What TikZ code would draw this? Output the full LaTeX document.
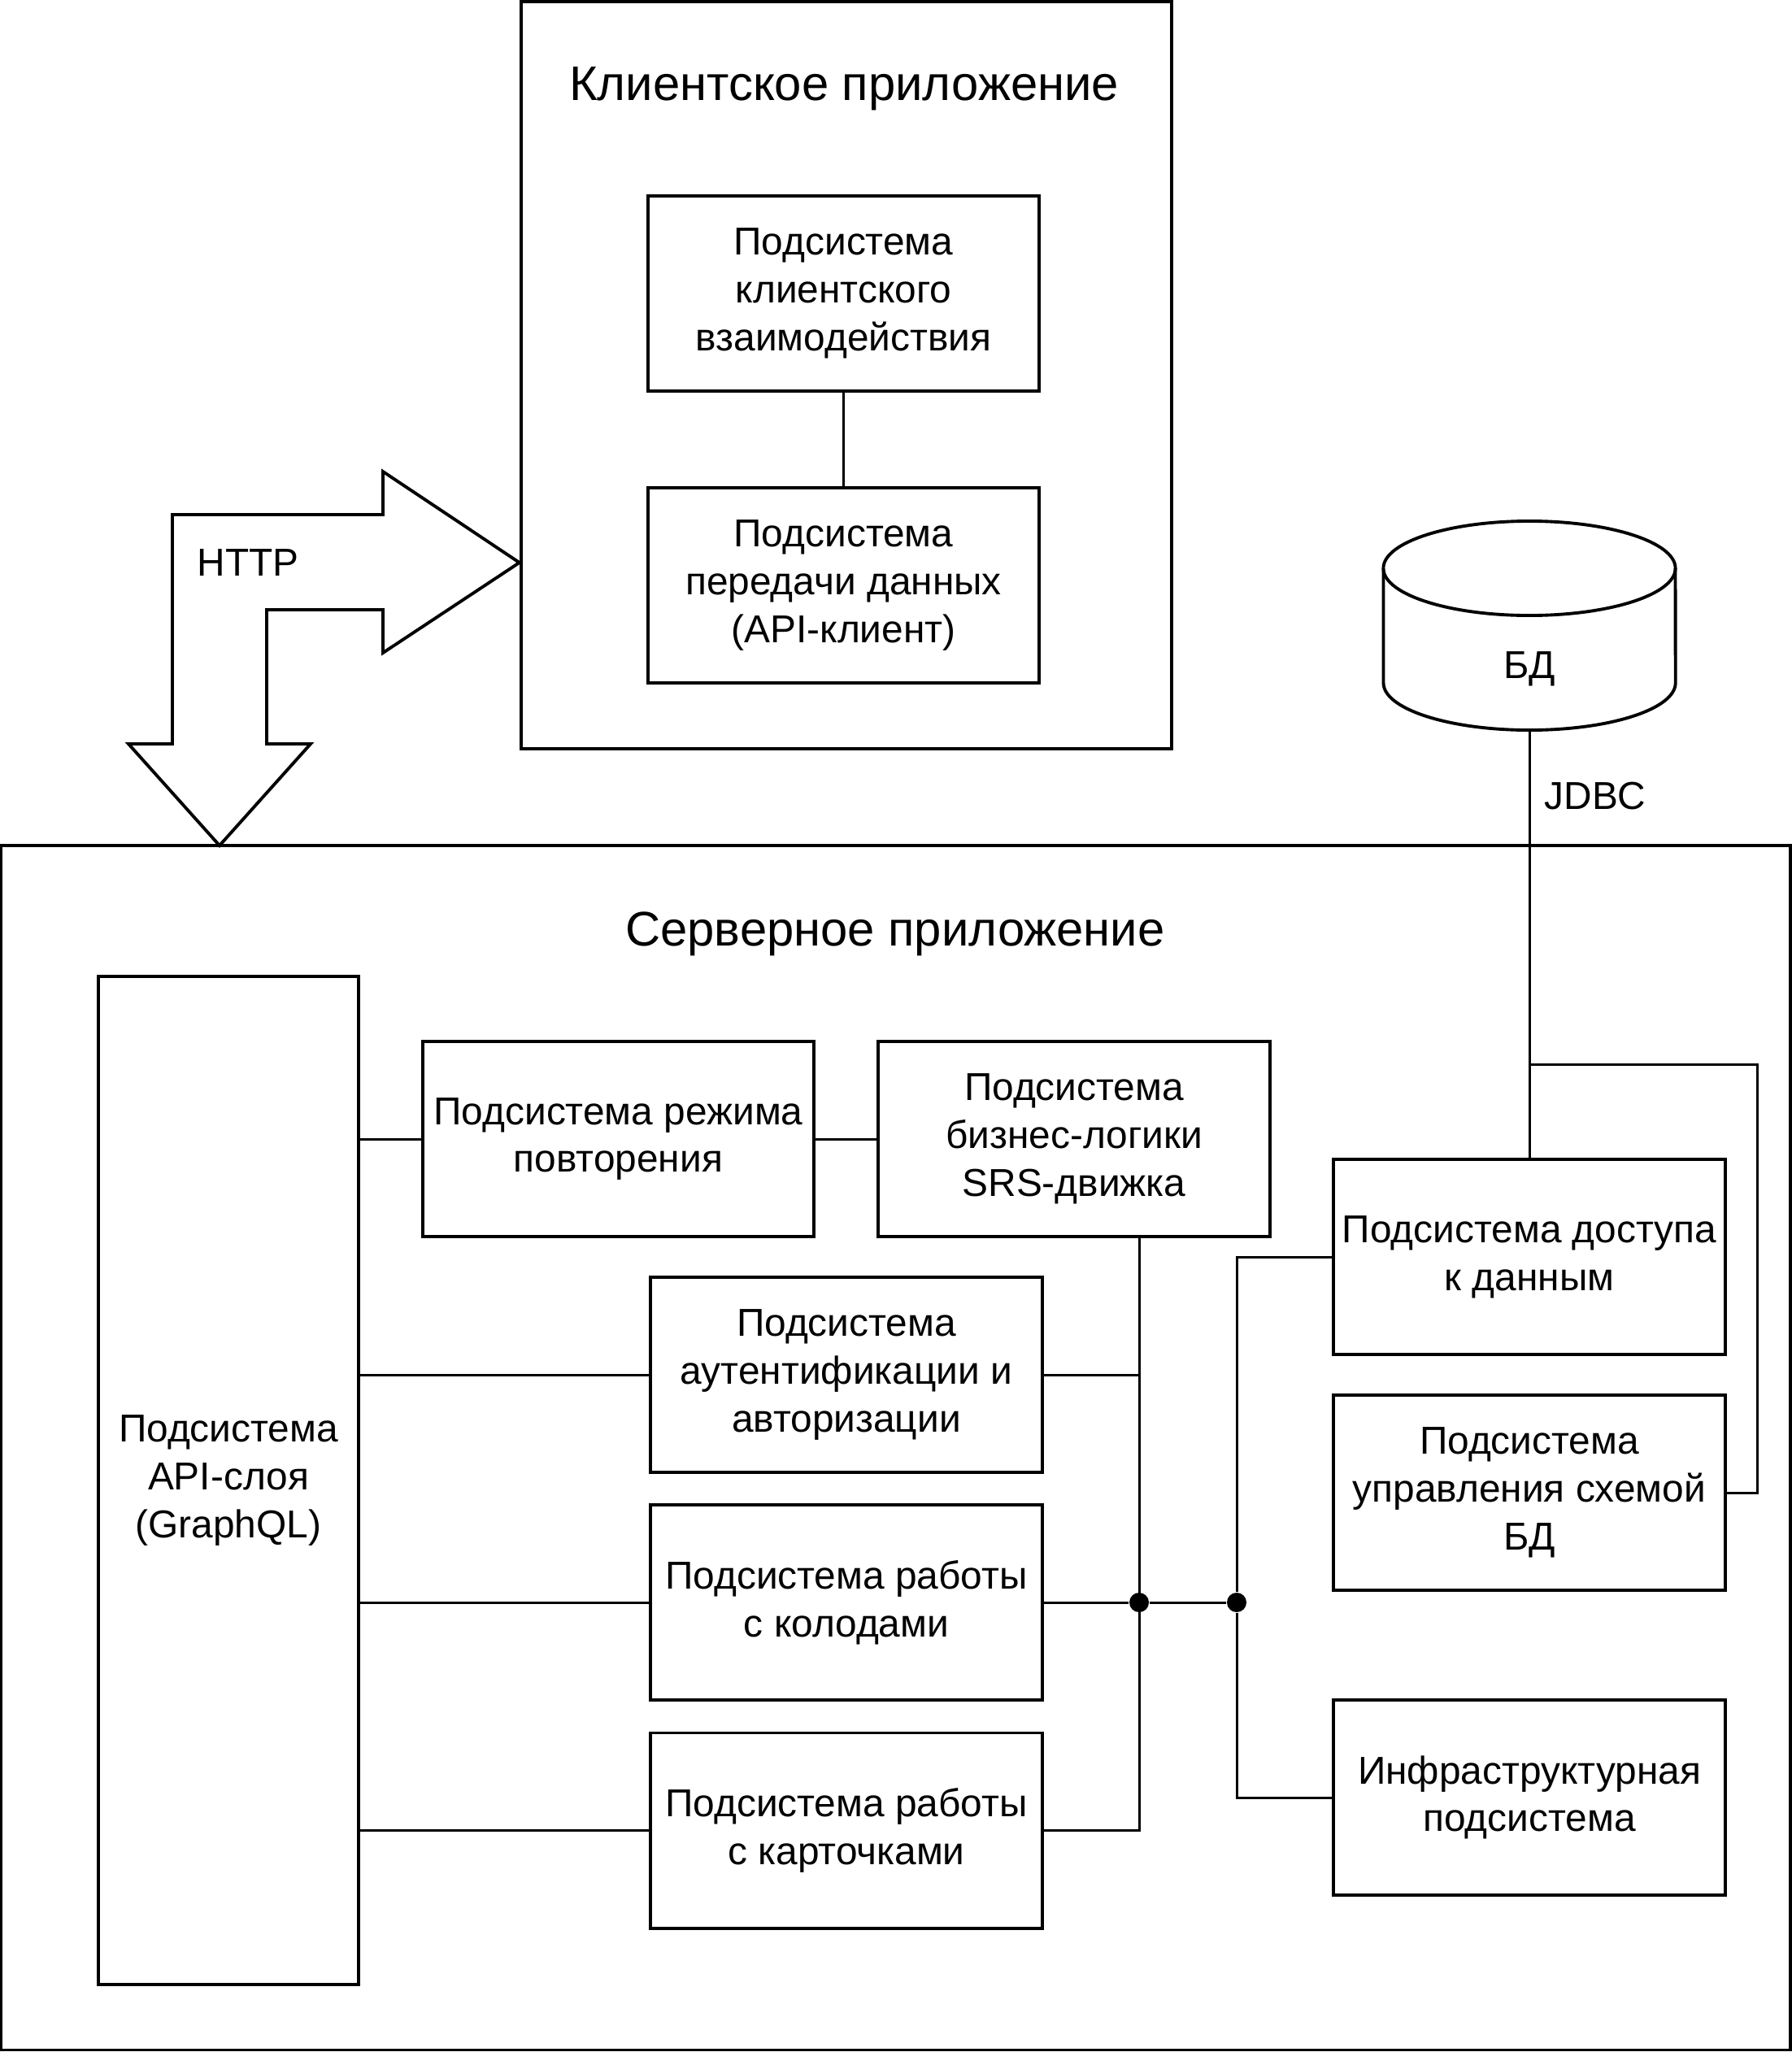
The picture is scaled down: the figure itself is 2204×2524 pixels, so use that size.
\documentclass[tikz,border=0pt]{standalone}
\usepackage{fontspec}
\setmainfont{Liberation Sans}
\tikzset{
	subsys/.style={draw,line width=1.1pt,minimum width=4.81cm,minimum height=2.4cm,align=center,inner sep=2pt,font=\fontsize{13.6}{16.7}\selectfont},
	container/.style={draw,line width=1.1pt,inner sep=0pt},
	wire/.style={line width=0.85pt},
	junction/.style={circle,fill,inner sep=0pt,minimum size=0.24cm},
	caption/.style={font=\fontsize{17}{20.4}\selectfont},
	tag/.style={font=\fontsize{13.6}{16.3}\selectfont}
}

\begin{document}
\begin{tikzpicture}[x=0.01cm,y=-0.01cm]
					\useasboundingbox (0,0) rectangle (2204,2524);

					\node[container,minimum width=8.0cm,minimum height=9.19cm] (client) at (1041,461.5) {};
					\node[caption] (clienttitle) at (1038,109) {Клиентское приложение};
					\node[subsys] (clientui) at (1037.5,361) {Подсистема\\клиентского\\взаимодействия};
					\node[subsys] (apiclient) at (1037.5,720) {Подсистема\\передачи данных\\(API-клиент)};

					\node[container,minimum width=21.99cm,minimum height=14.81cm] (server) at (1101.5,1780.5) {};
					\node[caption] (servertitle) at (1101,1149) {Серверное приложение};
					\node[subsys,minimum width=3.2cm,minimum height=12.4cm] (api) at (281,1821) {Подсистема\\API-слоя\\(GraphQL)};
					\node[subsys] (rep) at (760.5,1401) {Подсистема режима\\повторения};
					\node[subsys] (srs) at (1321,1401) {Подсистема\\бизнес-логики\\SRS-движка};
					\node[subsys] (auth) at (1041,1691) {Подсистема\\аутентификации и\\авторизации};
					\node[subsys] (decks) at (1041,1971) {Подсистема работы\\с колодами};
					\node[subsys] (cards) at (1041,2251.5) {Подсистема работы\\с карточками};
					\node[subsys] (access) at (1881,1546) {Подсистема доступа\\к данным};
					\node[subsys] (schema) at (1881,1836) {Подсистема\\управления схемой\\БД};
					\node[subsys] (infra) at (1881,2211) {Инфраструктурная\\подсистема};

					\node[inner sep=0pt,outer sep=0pt,minimum width=3.59cm,minimum height=2.57cm] (db) at (1881,769.5) {};
					\draw[line width=1.1pt] (1701.5,699) -- (1701.5,840) arc[start angle=180,end angle=360,x radius=1.795cm,y radius=0.58cm] -- (2060.5,699);
					\draw[line width=1.1pt] (1881,699) ellipse[x radius=1.795cm,y radius=0.58cm];
					\node[tag] (dbname) at (1881,823) {БД};

					\draw[line width=1.1pt,fill=white] (212,915) -- (212,633) -- (471,633) -- (471,580) -- (client.west |- 0,692) -- (471,803) -- (471,750) -- (328,750) -- (328,915) -- (382,915) -- (270,1040) -- (158,915) -- cycle;
					\node[tag] (http) at (305,692) {HTTP};
					\node[tag] (jdbc) at (1962,979) {JDBC};

					\node[junction] (j1) at (1401,1971) {};
					\node[junction] (j2) at (1521,1971) {};
					\coordinate (tap) at (1881,1309);
					\coordinate (bend) at (2161,1309);

					\draw[wire] (clientui) -- (apiclient);
					\draw[wire] (db.south) -- (access.north);
					\draw[wire] (tap) -- (bend) |- (schema.east);
					\foreach \n in {rep,auth,decks,cards}
						\draw[wire] (api.east |- \n.west) -- (\n.west);
					\draw[wire] (rep) -- (srs);
					\draw[wire] (srs.south -| j1) |- (cards.east);
					\draw[wire] (auth.east) -- (auth.east -| j1);
					\draw[wire] (decks.east) -- (j1) -- (j2);
					\draw[wire] (access.west) -| (j2) |- (infra.west);
				\end{tikzpicture}
\end{document}
